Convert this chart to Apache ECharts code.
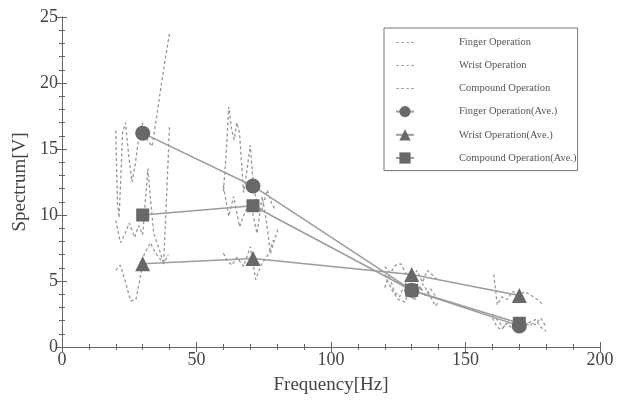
<!DOCTYPE html>
<html>
<head>
<meta charset="utf-8">
<script src="https://cdn.jsdelivr.net/npm/echarts@6/dist/echarts.min.js"></script>
<style>
  html, body { margin: 0; padding: 0; background: #fff; }
  #chart { width: 627px; height: 403px; }
</style>
</head>
<body>
<div id="chart"></div>
<script>
// raw spectra, '-' breaks the line between frequency bands
var fingerRaw = [
  [20,16.4],[20.6,11],[21.2,9.8],[21.8,12.5],[22.5,16.2],[23.6,17],[24.8,14.5],[26,12.5],[27.2,13.8],[28.5,15.8],[29.8,17],[30.8,16],[32,15.6],[33.5,15.2],[35,17.2],[36.5,19.3],[38.2,21.6],[40,23.8],
  [50,'-'],
  [60,11.8],[61,14.5],[62,18.2],[63,16.5],[64,15.7],[65,17],[66,16.2],[67.5,11.7],[68.5,13],[70,15.3],[71,12.5],[72.5,10.8],[74,10.2],[76.3,11.9],[78,10.8],[79.4,10.4],
  [100,'-'],
  [120,5.5],[121.5,4.8],[123,4.2],[125,3.6],[127.7,3.4],[129,4.5],[130.5,4.0],[132,3.8],[134,4.8],[136,4.2],[138.8,3.1],[140,3.4],
  [150,'-'],
  [160,2.2],[161.8,1.5],[163.5,1.3],[165,1.8],[167,1.5],[169,2.0],[171,1.4],[172.5,1.8],[174,1.6],[176,2.1],[178,1.5],[180,1.2]
];
var wristRaw = [
  [20,5.8],[21.7,6.2],[23.5,5],[25.5,3.5],[27.5,3.6],[29,5.2],[30.5,7],[32.9,7.9],[34.5,7.2],[36,6.8],[37.8,6.3],[39.5,7],
  [50,'-'],
  [60,7.1],[61.5,6.5],[63.2,6.2],[65,6.8],[67.5,6.1],[70,7.6],[72,5.1],[74,6.2],[76.9,7.1],[78.6,8.1],
  [100,'-'],
  [120,6.1],[122,5.6],[124,6.2],[126,6.3],[128,5.5],[130,5.2],[132,5.8],[134,4.9],[135.8,5.8],[137.5,5.5],[139.5,5.1],
  [150,'-'],
  [160.5,5.5],[161.8,3.2],[163.5,3.8],[165.5,3.6],[167.5,4.2],[170,3.9],[172,4.2],[174.5,3.9],[176.7,3.6],[179,3.2]
];
var compoundRaw = [
  [20,9.6],[21.7,7.9],[23.5,8.6],[25,9.4],[27,8.3],[28.5,9.2],[30,8.5],[31.9,13.5],[33,11],[34.1,8.6],[36,7.5],[37.8,6.3],[40,16.8],
  [50,'-'],
  [60,12.2],[62,9.9],[63.8,11.4],[66,9.1],[68,10.2],[70,11],[72.5,8.6],[74.4,11.4],[76,9.5],[77.5,7.1],[80.2,8.9],
  [100,'-'],
  [120,4.5],[121.5,5.5],[123.5,4.2],[125.5,3.8],[127.5,4.9],[129.5,4.2],[131,3.5],[133,4.6],[135,3.9],[137,4.4],[139,3.8],
  [150,'-'],
  [160,2.5],[162,2.0],[164,1.5],[166,1.9],[168,1.7],[170,2.0],[172,1.6],[174,1.9],[176,1.7],[178,2.2],[180,1.5]
];

// averages
var avgFreq = [30, 71, 130, 170];
var fingerAvg = [16.2, 12.2, 4.3, 1.6];
var wristAvg = [6.3, 6.7, 5.5, 3.9];
var compoundAvg = [10.0, 10.7, 4.3, 1.8];

var names = ['Finger Operation', 'Wrist Operation', 'Compound Operation',
  'Finger Operation(Ave.)', 'Wrist Operation(Ave.)', 'Compound Operation(Ave.)'];

function pairs(ys) {
  return avgFreq.map(function (x, i) { return [x, ys[i]]; });
}

var font = 'Liberation Serif';
var axisCol = '#666';
// four short dashes for the legend of the raw curves
var dashIcon = 'path://M0,0h3v1H0z M5,0h3v1H5z M10,0h3v1h-3z M15,0h3v1h-3z';

function rawSeries(name, data) {
  return {
    name: name, type: 'line', data: data, symbol: 'none',
    connectNulls: false, z: 2,
    lineStyle: { color: '#979797', width: 1.3, type: [3, 2.5] },
    itemStyle: { color: '#a8a8a8' }
  };
}
function avgSeries(name, data, symbol, size) {
  return {
    name: name, type: 'line', data: pairs(data), symbol: symbol, symbolSize: size,
    z: 5,
    lineStyle: { color: '#9c9c9c', width: 1.5 },
    itemStyle: { color: '#686868' }
  };
}

var legendData = names.map(function (n, i) {
  return i < 3 ? { name: n, icon: dashIcon } : { name: n };
});

var chart = echarts.init(document.getElementById('chart'), null, { renderer: 'canvas' });

var xCommon = {
  type: 'value', min: 0, max: 200, interval: 50,
  axisLine: { show: true, lineStyle: { color: axisCol, width: 1 } },
  axisTick: { show: true, inside: true, length: 5, lineStyle: { color: axisCol } },
  minorTick: { show: true, splitNumber: 5, length: 3, lineStyle: { color: axisCol } },
  splitLine: { show: false }
};
var yCommon = {
  type: 'value', min: 0, max: 25, interval: 5,
  axisLine: { show: true, lineStyle: { color: axisCol, width: 1 } },
  axisTick: { show: true, inside: true, length: 5, lineStyle: { color: axisCol } },
  minorTick: { show: true, splitNumber: 5, length: 3, lineStyle: { color: axisCol } },
  splitLine: { show: false }
};

chart.setOption({
  backgroundColor: '#fff',
  animation: false,
  grid: { left: 62, right: 27, top: 17, bottom: 56 },
  legend: {
    orient: 'vertical', left: 384, top: 28,
    data: legendData,
    itemWidth: 18, itemHeight: 14, itemGap: 12,
    padding: [9, 1, 7, 11],
    borderColor: '#777', borderWidth: 1, backgroundColor: '#fff',
    textStyle: { fontFamily: font, fontSize: 10.5, color: '#555', padding: [0, 0, 0, 40] }
  },
  xAxis: [
    Object.assign({}, xCommon, {
      position: 'bottom',
      name: 'Frequency[Hz]', nameLocation: 'middle', nameGap: 29,
      nameTextStyle: { fontFamily: font, fontSize: 19, color: '#444' },
      axisLabel: { fontFamily: font, fontSize: 18, color: '#444', margin: 4 }
    }),
    Object.assign({}, xCommon, { position: 'top', axisLabel: { show: false } })
  ],
  yAxis: [
    Object.assign({}, yCommon, {
      position: 'left',
      name: 'Spectrum[V]', nameLocation: 'middle', nameGap: 29,
      nameTextStyle: { fontFamily: font, fontSize: 19, color: '#444' },
      axisLabel: { fontFamily: font, fontSize: 18, color: '#444', margin: 4 }
    }),
    Object.assign({}, yCommon, { position: 'right', axisLabel: { show: false } })
  ],
  series: [
    rawSeries(names[0], fingerRaw),
    rawSeries(names[1], wristRaw),
    rawSeries(names[2], compoundRaw),
    avgSeries(names[3], fingerAvg, 'circle', 15),
    avgSeries(names[4], wristAvg, 'triangle', 15),
    avgSeries(names[5], compoundAvg, 'rect', 13)
  ]
});
</script>
</body>
</html>
